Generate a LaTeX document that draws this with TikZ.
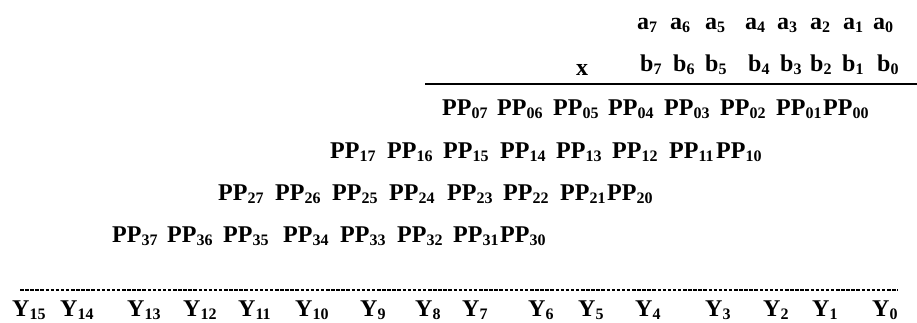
\documentclass[tikz,border=0pt]{standalone}
\usepackage{fontspec}
\setmainfont{Liberation Serif}
\newcommand\sbs[1]{\raisebox{-3.5pt}{\fontsize{16}{16}\selectfont #1}}
\begin{document}
\begin{tikzpicture}[x=1pt,y=-1pt,
  term/.style={anchor=base west,inner sep=0pt,font=\fontsize{24}{27}\selectfont\bfseries},
  rule/.style={line width=2pt},
  dashrule/.style={line width=1.3pt,dash pattern=on 3.5pt off 1.6pt}]
\useasboundingbox (0,0) rectangle (917,322);
% multiplicand a
\foreach \k/\px in {7/637,6/670,5/705,4/745,3/777,2/810,1/843,0/873}
  \node[term] (a\k) at (\px,29) {a\sbs{\k}};
% multiplier b
\foreach \k/\px in {7/640,6/673,5/705,4/748,3/780,2/810,1/842,0/877}
  \node[term] (b\k) at (\px,71) {b\sbs{\k}};
\node[term] (times) at (576,75) {x};
% solid rule
\coordinate (r1) at (425,83.5);
\coordinate (r2) at (917,83.5);
\draw[rule] (r1) -- (r2);
% partial products
\foreach \k/\px in {7/442,6/497,5/553,4/608,3/664,2/720,1/776,0/823}
  \node[term] (pp0\k) at (\px,115) {PP\sbs{0\k}};
\foreach \k/\px in {7/330,6/387,5/443,4/500,3/556,2/612,1/669,0/716}
  \node[term] (pp1\k) at (\px,158) {PP\sbs{1\k}};
\foreach \k/\px in {7/218,6/275,5/332,4/389,3/447,2/503,1/560,0/607}
  \node[term] (pp2\k) at (\px,200) {PP\sbs{2\k}};
\foreach \k/\px in {7/112,6/167,5/223,4/283,3/340,2/397,1/453,0/500}
  \node[term] (pp3\k) at (\px,242) {PP\sbs{3\k}};
% dashed rule
\coordinate (d1) at (20,290);
\coordinate (d2) at (898,290);
\draw[dashrule] (d1) -- (d2);
% result
\foreach \k/\px in {15/12,14/60,13/127,12/183,11/238,10/295,9/360,8/415,7/462,6/528,5/578,4/635,3/705,2/763,1/812,0/872}
  \node[term] (y\k) at (\px,316) {Y\sbs{\k}};
\end{tikzpicture}
\end{document}
